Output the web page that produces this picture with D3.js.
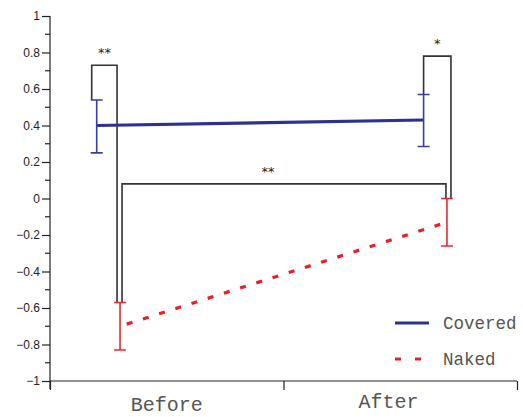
<!DOCTYPE html>
<html><head><meta charset="utf-8">
<script src="https://cdn.jsdelivr.net/npm/d3@7"></script>
<style>body{margin:0;background:#fff}svg{display:block}</style>
</head><body><svg id="c" width="523" height="417"></svg>
<script>
const categories = ["Before", "After"];
const seriesNames = ["Covered", "Naked"];
const coveredMean = [0.40, 0.43];
const coveredUpper = [0.54, 0.57];
const coveredLower = [0.25, 0.285];
const nakedMean = [-0.70, -0.13];
const nakedUpper = [-0.57, 0.0];
const nakedLower = [-0.83, -0.26];
const yTicks = [-1, -0.8, -0.6, -0.4, -0.2, 0, 0.2, 0.4, 0.6, 0.8, 1];
const bracketLabels = ["**", "*", "**"];
const bracketTops = [0.73, 0.78, 0.08];

const svg = d3.select("#c");
const x = d3.scaleLinear().domain([0, 2]).range([50, 517]);
const y = d3.scaleLinear().domain([-1, 1]).range([381, 16]);
// layout: horizontal placement of each series within a category band
const offs = {Covered: [0.2, 0.6], Naked: [0.3, 0.7]};
const px = (i, s) => x(i + offs[s][i]);

// Y axis
const yAxis = d3.axisLeft(y).tickValues(yTicks).tickSize(8).tickPadding(2)
  .tickFormat(d => d3.format("")(d).replace("-", "\u2212"));
const ga = svg.append("g").attr("transform", "translate(50,0)").call(yAxis);
ga.select(".domain").attr("d", `M0,${y(1)}V${y(-1) + 8}`);
ga.selectAll("text").attr("font-family", "Liberation Sans, Arial, sans-serif").attr("font-size", 12).attr("fill", "#222");
ga.selectAll("line,path").attr("stroke", "#222").attr("stroke-width", 1.2);
const minor = d3.range(-0.9, 1.0, 0.2);
ga.selectAll(".minor").data(minor).enter().append("line")
  .attr("x1", -5).attr("x2", 0).attr("y1", d => y(d)).attr("y2", d => y(d))
  .attr("stroke", "#222").attr("stroke-width", 1.2);

// X axis
const xAxis = d3.axisBottom(x).tickValues([0, 1, 2]).tickSize(9).tickFormat("");
const gx = svg.append("g").attr("transform", `translate(0,${y(-1)})`).call(xAxis);
gx.select(".domain").attr("d", `M${x(0)},0H${x(2)}`);
gx.selectAll("line,path").attr("stroke", "#222").attr("stroke-width", 1.2);
const labelPos = [0.5, 1.45];
const labelY = [411, 408];
svg.selectAll(".xl").data(categories).enter().append("text")
  .attr("x", (d, i) => x(labelPos[i])).attr("y", (d, i) => labelY[i])
  .attr("text-anchor", "middle").attr("font-family", "Liberation Mono, Courier New, monospace")
  .attr("font-size", 20).attr("fill", "#555").text(d => d);

// Significance brackets (legs tied to error bar tops)
const bc = "#333";
const legs = [
  [px(0, "Covered") - 5, y(coveredUpper[0]), px(0, "Naked") - 3, y(nakedUpper[0])],
  [px(1, "Covered"), y(coveredUpper[1]), px(1, "Naked") + 4, y(nakedUpper[1])],
  [px(0, "Naked") + 2, y(nakedUpper[0]), px(1, "Naked") - 1, y(nakedUpper[1])]
];
const starShift = [0, 0, -16];
legs.forEach((l, k) => {
  const [x1, y1, x2, y2] = l, top = y(bracketTops[k]);
  svg.append("path").attr("d", `M${x1},${y1}V${top}H${x2}V${y2}`)
    .attr("fill", "none").attr("stroke", bc).attr("stroke-width", 1.6);
  svg.append("text").attr("x", (x1 + x2) / 2 + starShift[k]).attr("y", top - 8)
    .attr("text-anchor", "middle").attr("font-family", "DejaVu Sans, sans-serif")
    .attr("font-size", 13).attr("fill", "#222").text(bracketLabels[k]);
});

const blue = "#2e3192", red = "#ee1c25";
function series(name, mean, up, lo, color, dashed, errColor) {
  const line = d3.line().x((d, i) => px(i, name)).y(d => y(d));
  const p = svg.append("path").datum(mean).attr("d", line).attr("fill", "none")
    .attr("stroke", color).attr("stroke-width", 3.2);
  if (dashed) p.attr("stroke-dasharray", "6,11").attr("stroke-dashoffset", 10);
  mean.forEach((m, i) => {
    const cx = px(i, name);
    svg.append("path").attr("d", `M${cx - 6},${y(up[i])}H${cx + 6}M${cx},${y(up[i])}V${y(lo[i])}M${cx - 6},${y(lo[i])}H${cx + 6}`)
      .attr("fill", "none").attr("stroke", errColor).attr("stroke-width", 1.6);
  });
}
series("Covered", coveredMean, coveredUpper, coveredLower, blue, false, "#3a3e9e");
series("Naked", nakedMean, nakedUpper, nakedLower, red, true, "#f0262e");

// Legend
const lg = svg.append("g");
const legY = [323, 359];
seriesNames.forEach((s, i) => {
  const l = lg.append("line").attr("x1", 395).attr("x2", i ? 421 : 429)
    .attr("y1", legY[i]).attr("y2", legY[i]).attr("stroke", i ? red : blue).attr("stroke-width", 3);
  if (i) l.attr("stroke-dasharray", "6,14");
  lg.append("text").attr("x", 443).attr("y", legY[i] + 6).attr("font-family", "Liberation Mono, Courier New, monospace")
    .attr("font-size", 17.5).attr("fill", "#555").text(s);
});
</script></body></html>
